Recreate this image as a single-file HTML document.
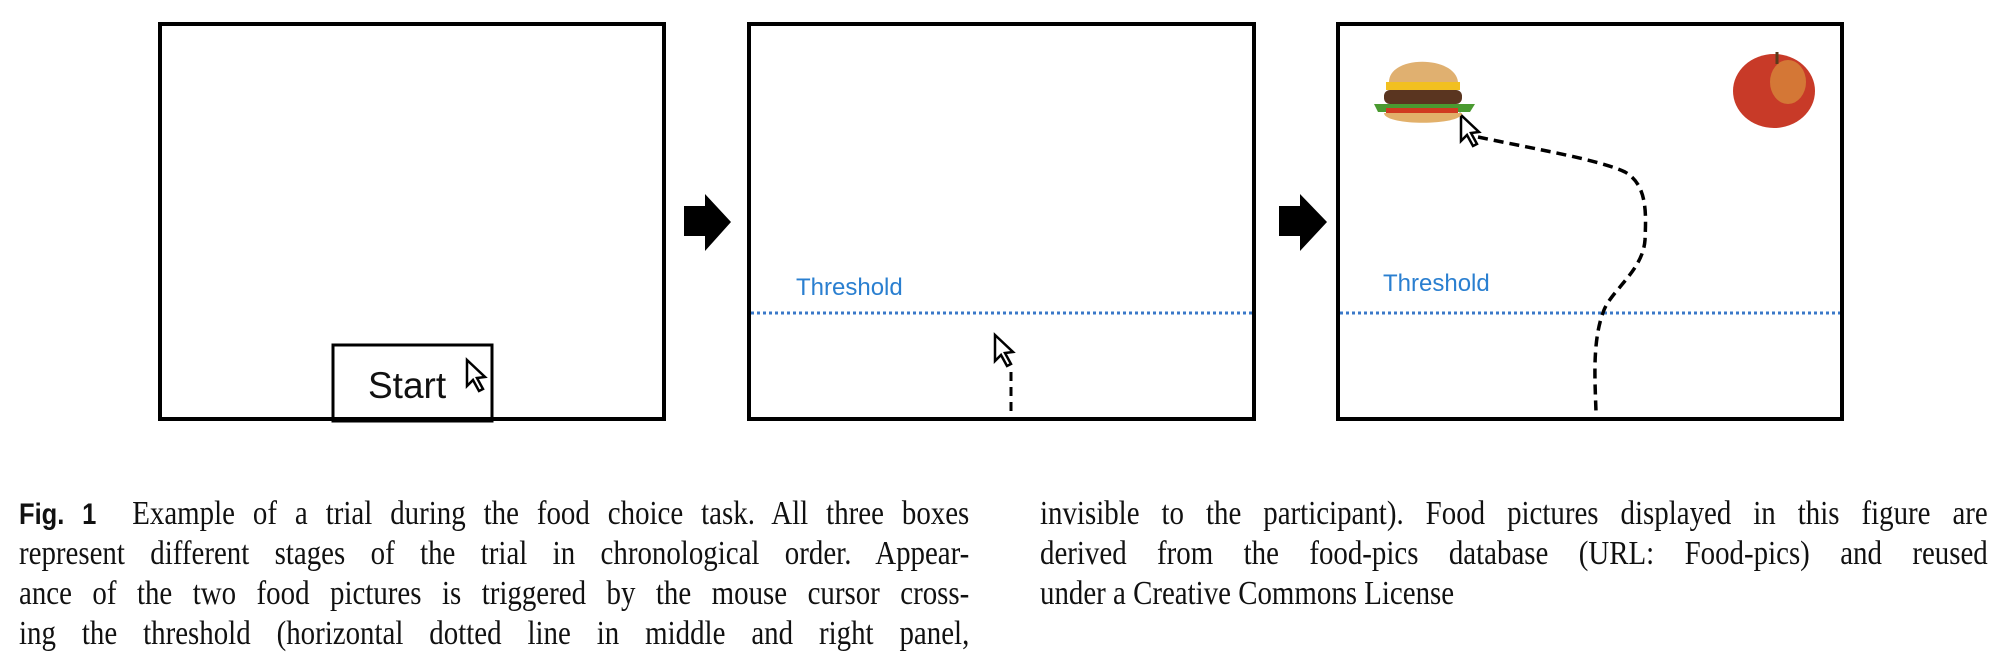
<!DOCTYPE html>
<html><head><meta charset="utf-8"><style>
html,body{margin:0;padding:0;background:#fff;width:2001px;height:660px;overflow:hidden;position:relative}
.ln{position:absolute;font-family:"Liberation Serif",serif;font-size:34px;line-height:40px;white-space:nowrap;transform-origin:0 0;transform:scaleX(0.85);text-align:justify;text-align-last:justify;color:#111}
.nl{text-align-last:left}
b{font-family:"Liberation Sans",sans-serif;font-weight:bold;font-size:30px}
</style></head><body>
<svg width="2001" height="660" style="position:absolute;left:0;top:0">
<g fill="none" stroke="#000" stroke-width="4">
<rect x="160" y="24" width="504" height="395"/>
<rect x="749" y="24" width="505" height="395"/>
<rect x="1338" y="24" width="504" height="395"/>
<rect x="333" y="345" width="159" height="76" stroke-width="3"/>
</g>
<polygon points="684,206 705,206 705,194 731,222 705,251 705,236 684,236" fill="#000"/>
<polygon points="1279,206 1300,206 1300,194 1327,222 1300,251 1300,236 1279,236" fill="#000"/>
<text x="368" y="398" font-family="Liberation Sans,sans-serif" font-size="37" fill="#111">Start</text>
<polygon points="467,360 467,386 473,380 479,391 483,389 477,378 485,377" fill="#fff" stroke="#000" stroke-width="2.5"/>
<text x="796" y="295" font-family="Liberation Sans,sans-serif" font-size="24" fill="#2a7fd0">Threshold</text>
<text x="1383" y="291" font-family="Liberation Sans,sans-serif" font-size="24" fill="#2a7fd0">Threshold</text>
<line x1="751" y1="313" x2="1252" y2="313" stroke="#3a78c8" stroke-width="3" stroke-dasharray="3,3"/>
<line x1="1340" y1="313" x2="1840" y2="313" stroke="#3a78c8" stroke-width="3" stroke-dasharray="3,3"/>
<polygon points="995,335 995,361 1001,355 1007,366 1011,364 1005,353 1013,352" fill="#fff" stroke="#000" stroke-width="2.5"/>
<line x1="1011" y1="372" x2="1011" y2="418" stroke="#000" stroke-width="3" stroke-dasharray="9,6"/>
<path d="M1478,137 C1540,150 1600,160 1625,172 C1648,185 1646,215 1645,240 C1643,270 1612,290 1604,310 C1592,340 1595,380 1596,412" fill="none" stroke="#000" stroke-width="3.5" stroke-dasharray="10,6"/>
<polygon points="1461,115 1461,141 1467,135 1473,146 1477,144 1471,133 1479,132" fill="#fff" stroke="#000" stroke-width="2.5"/>
<path d="M1389,82 C1389,55 1455,55 1458,82 Z" fill="#e0b070"/>
<rect x="1386" y="82" width="74" height="8" fill="#f2c020"/>
<rect x="1384" y="90" width="78" height="14" rx="6" fill="#5a3520"/>
<path d="M1374,104 L1475,104 L1470,112 L1378,112 Z" fill="#4a9a30"/>
<rect x="1386" y="108" width="72" height="5" fill="#d03a20"/>
<path d="M1384,113 L1462,113 C1462,126 1384,126 1384,113 Z" fill="#e2b06a"/>
<ellipse cx="1774" cy="91" rx="41" ry="37" fill="#c83a28"/>
<ellipse cx="1788" cy="82" rx="18" ry="22" fill="#dca040" opacity="0.6"/>
<line x1="1777" y1="52" x2="1777" y2="64" stroke="#5a3a1a" stroke-width="3"/>
</svg>
<div class="ln" style="left:19px;top:494px;width:1118px"><b>Fig. 1</b>&nbsp; Example of a trial during the food choice task. All three boxes</div>
<div class="ln" style="left:19px;top:534px;width:1118px">represent different stages of the trial in chronological order. Appear-</div>
<div class="ln" style="left:19px;top:574px;width:1118px">ance of the two food pictures is triggered by the mouse cursor cross-</div>
<div class="ln" style="left:19px;top:614px;width:1118px">ing the threshold (horizontal dotted line in middle and right panel,</div>
<div class="ln" style="left:1040px;top:494px;width:1115px">invisible to the participant). Food pictures displayed in this figure are</div>
<div class="ln" style="left:1040px;top:534px;width:1115px">derived from the food-pics database (URL: Food-pics) and reused</div>
<div class="ln nl" style="left:1040px;top:574px;width:1115px">under a Creative Commons License</div>
</body></html>
